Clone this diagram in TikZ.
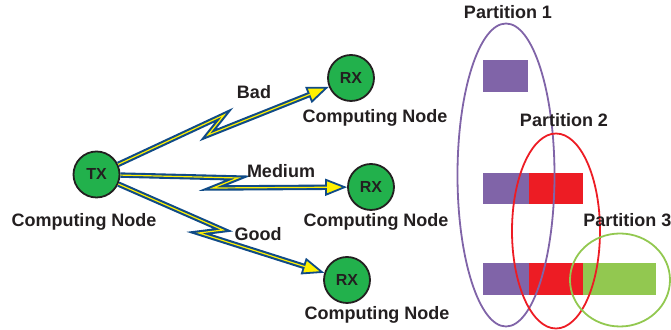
\documentclass[tikz,border=0pt]{standalone}
\usepackage{fontspec}
\setmainfont{Liberation Sans}
\usepackage{xcolor}
\usetikzlibrary{arrows.meta, positioning}

\definecolor{nodegreen}{RGB}{34,177,76}
\definecolor{boltblue}{RGB}{16,75,135}
\definecolor{boltyellow}{RGB}{255,240,0}
\definecolor{partpurple}{RGB}{128,100,168}
\definecolor{partred}{RGB}{237,28,36}
\definecolor{partgreen}{RGB}{146,200,80}
\definecolor{textgrey}{RGB}{35,31,32}

\tikzset{
    station/.style={circle, draw=textgrey, line width=0.9pt, fill=nodegreen, minimum size=23pt, inner sep=0pt, text=textgrey, font=\fontsize{8}{9}\selectfont\bfseries},
    caption/.style={font=\fontsize{9}{11}\selectfont\bfseries, text=textgrey, inner sep=0pt},
    bolt/.style={draw=boltblue, line width=2.7pt, line join=miter, -{Triangle[length=11pt, width=8.5pt, line width=0.9pt, fill=boltyellow]}, postaction={draw=boltyellow, line width=0.6pt, -, shorten >=10pt}},
    partline/.style={line width=0.9pt}
}

\begin{document}
\begin{tikzpicture}[x=0.5pt, y=-0.5pt]
    \path[use as bounding box, clip] (0,0) rectangle (671,330);

    % Nodes
    \node[station] (tx) at (96.5,174.5) {TX};
    \node[station] (rx1) at (351,78) {RX};
    \node[station] (rx2) at (371,187) {RX};
    \node[station] (rx3) at (347,280) {RX};

    \node[caption] (txlab) at (84,222) {Computing Node};
    \node[caption] (rx1lab) at (375,118) {Computing Node};
    \node[caption] (rx2lab) at (376,222) {Computing Node};
    \node[caption] (rx3lab) at (377,315) {Computing Node};

    % Links
    \draw[bolt] (tx) -- (224,115) -- (208,135) -- (rx1);
    \draw[bolt] (tx) -- (238,178) -- (213,188) -- (rx2);
    \draw[bolt] (tx) -- (223,230) -- (199,233) -- (rx3);

    \node[caption] (bad) at (254,92) {Bad};
    \node[caption] (medium) at (281,171) {Medium};
    \node[caption] (good) at (258,234) {Good};

    % Blocks
    \fill[partpurple] (483,60) rectangle (528,92);
    \fill[partpurple] (483,173) rectangle (529,204);
    \fill[partred] (529,173) rectangle (583,204);
    \fill[partpurple] (483,263) rectangle (529,295);
    \fill[partred] (529,263) rectangle (583,295);
    \fill[partgreen] (583,263) rectangle (656,295);

    % Partitions
    \draw[partline, partpurple] (506,175) ellipse [x radius=48.5, y radius=151.5];
    \draw[partline, partred] (556,231) ellipse [x radius=44, y radius=97.5];
    \draw[partline, partgreen] (620,280) ellipse [x radius=50, y radius=46.5];

    \node[caption] (part1) at (508,12) {Partition 1};
    \node[caption] (part2) at (564,120) {Partition 2};
    \node[caption, anchor=west] (part3) at (583,220) {Partition 3};
\end{tikzpicture}
\end{document}
